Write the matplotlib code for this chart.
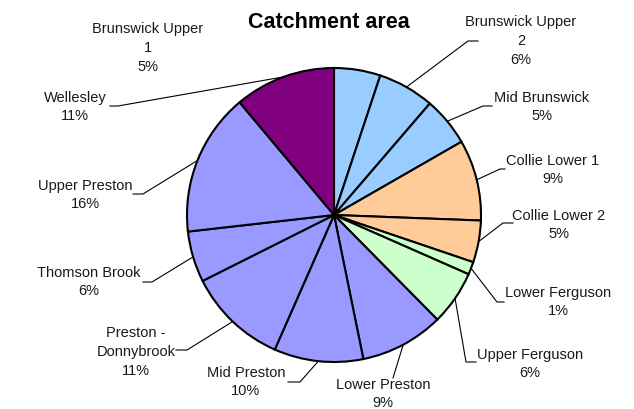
import numpy as np
import matplotlib.pyplot as plt

plt.rcParams['font.family'] = ['Liberation Sans', 'DejaVu Sans']

catchments = ["Brunswick Upper\n1", "Brunswick Upper\n2", "Mid Brunswick",
              "Collie Lower 1", "Collie Lower 2", "Lower Ferguson",
              "Upper Ferguson", "Lower Preston", "Mid Preston",
              "Preston -\nDonnybrook", "Thomson Brook", "Upper Preston",
              "Wellesley"]
area_pct = [5.1, 6.2, 5.4, 8.9, 4.6, 1.4, 6.0, 9.2, 9.8, 11.0, 5.6, 15.7, 11.1]
colours = ["#99CCFF", "#99CCFF", "#99CCFF", "#FFCC99", "#FFCC99", "#CCFFCC",
           "#CCFFCC", "#9999FF", "#9999FF", "#9999FF", "#9999FF", "#9999FF",
           "#800080"]

# label layout in pixel coords (top-left origin): text centre, elbow, line end x
label_xy = [(148, 48), (521, 41), (542, 107), (553, 170), (559, 225),
            (558, 302), (530, 364), (383, 394), (246, 382), (136, 352),
            (89, 282), (85, 195), (75, 107)]
elbow = [None, (468, 42), (483, 107), (500, 170), (503, 224), (497, 303),
         (466, 363), (393, 379), (300, 383), (187, 351), (152, 283),
         (143, 195), (118, 107)]
line_end_x = [None, 478, 492, 505, 513, 504, 476, 393, 288, 176, 143, 133, 110]

W, H = 634, 410
cx, cy, r = 334, 216, 147

fig = plt.figure(figsize=(6.34, 4.10), dpi=100)
ax = fig.add_axes([0, 0, 1, 1])

wedges, _ = ax.pie(area_pct, colors=colours, startangle=90, counterclock=False,
                   center=(cx, H - cy), radius=r,
                   wedgeprops=dict(edgecolor='black', linewidth=1.5))
ax.set_xlim(0, W)
ax.set_ylim(0, H)
ax.set_aspect('equal')
ax.axis('off')

total = sum(area_pct)
cum = np.cumsum([0] + area_pct)
for i, name in enumerate(catchments):
    pct = area_pct[i] / total * 100
    lx, ly = label_xy[i]
    ax.text(lx, H - ly, f"{name}\n{pct:.0f}%", ha='center', va='center',
            fontsize=10.5, linespacing=1.45, color='#1a1a1a')
    if elbow[i] is None:
        continue
    mid = (cum[i] + cum[i + 1]) / 2 / total * 2 * np.pi
    sx = cx + r * np.sin(mid)
    sy = cy - r * np.cos(mid)
    ex, ey = elbow[i]
    ax.plot([sx, ex, line_end_x[i]], [H - sy, H - ey, H - ey],
            color='black', linewidth=0.8)

ax.text(329, H - 22, "Catchment area", ha='center', va='center',
        fontsize=15.5, fontweight='bold')

fig.savefig("out.png", dpi=100)
